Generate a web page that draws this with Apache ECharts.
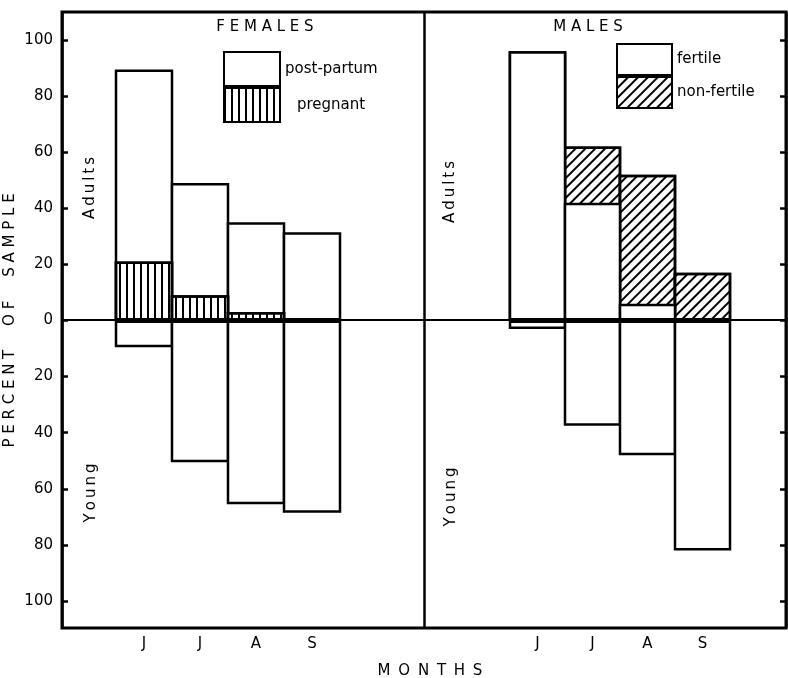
<!DOCTYPE html>
<html>
<head>
<meta charset="utf-8">
<script src="https://cdn.jsdelivr.net/npm/echarts@6/dist/echarts.min.js"></script>
<style>html,body{margin:0;padding:0;background:#fff}#c{width:788px;height:678px}</style>
</head>
<body>
<div id="c"></div>
<script>
// ---- data (percent of sample) ----
const categories = ['J', 'J', 'A', 'S'];
// females, adults: top of the whole bar (post-partum + pregnant) and the pregnant part
const femaleAdultTotal = [89.5, 49, 35, 31.5];
const femalePregnant = [21, 9, 3, 0];
const femaleYoung = [9.5, 50.5, 65.5, 68.5];
// males, adults: top of the whole bar (fertile + non-fertile) and the fertile part
const maleAdultTotal = [96, 62, 52, 17];
const maleFertile = [96, 42, 6, 0];
const maleYoung = [3, 37.5, 48, 82];
const yMin = -100, yMax = 100, yStep = 20;

const FONT = 'DejaVu Sans';
const black = '#000';
const BW = 2.5;
const gridW = [0, 224, 220];
const plainStyle = { color: '#fff', borderColor: black, borderWidth: BW };
const vertHatch = {
  color: '#fff', borderColor: black, borderWidth: BW,
  decal: { symbol: 'rect', symbolSize: 1, color: black, dashArrayX: [2, 5], dashArrayY: [1, 0], rotation: 0 }
};
const diagHatch = {
  color: '#fff', borderColor: black, borderWidth: BW,
  decal: { symbol: 'rect', symbolSize: 1, color: black, dashArrayX: [1.3, 5], dashArrayY: [1, 0], rotation: Math.PI / 4 }
};
const neg = a => a.map(v => -v);
const dropZero = a => a.map(v => (v === 0 ? '-' : v));

function barSeries(name, data, gi, style) {
  return {
    name, type: 'bar', data: dropZero(data), xAxisIndex: gi, yAxisIndex: gi,
    // ECharts draws the border inside the bar; widen by the border so neighbours share one edge
    barWidth: gridW[gi] / categories.length + BW, barGap: '-100%',
    itemStyle: style, silent: true, animation: false
  };
}

function catAxis(gi) {
  return {
    gridIndex: gi, type: 'category', data: categories, position: 'bottom', offset: 27,
    axisLine: { show: false },
    axisTick: { show: true, inside: true, length: 5, alignWithLabel: false, lineStyle: { color: black, width: 2 } },
    axisLabel: { color: black, fontSize: 15, fontFamily: FONT, margin: 9 },
    splitLine: { show: false }
  };
}

const txt = (text, x, y, rot) => ({
  type: 'text', x, y, rotation: rot || 0,
  style: { text, fill: black, font: '15px "' + FONT + '"', align: 'center', verticalAlign: 'middle' }
});

const chart = echarts.init(document.getElementById('c'), null, { renderer: 'canvas' });
chart.setOption({
  animation: false,
  backgroundColor: '#fff',
  grid: [
    { left: 62, top: 12, width: 724, height: 616, show: true, borderColor: black, borderWidth: 3, backgroundColor: 'transparent' },
    { left: 116, top: 40, width: gridW[1], height: 561 },
    { left: 510, top: 40, width: gridW[2], height: 561 }
  ],
  xAxis: [
    {
      gridIndex: 0, type: 'value', min: 0, max: 2, interval: 1,
      axisLine: { show: true, onZero: true, lineStyle: { color: black, width: 2 } },
      axisTick: { show: false }, axisLabel: { show: false },
      splitLine: { show: true, lineStyle: { color: black, width: 2.5 } }
    },
    catAxis(1),
    catAxis(2)
  ],
  yAxis: [
    {
      gridIndex: 0, type: 'value', min: -110, max: 110,
      axisLine: { show: false }, axisTick: { show: false }, axisLabel: { show: false }, splitLine: { show: false }
    },
    {
      gridIndex: 1, type: 'value', min: yMin, max: yMax, interval: yStep, position: 'left', offset: 54,
      axisLine: { show: false },
      axisTick: { show: true, inside: true, length: 6, lineStyle: { color: black, width: 2.5 } },
      axisLabel: { color: black, fontSize: 15, fontFamily: FONT, margin: 9, formatter: v => String(Math.abs(v)) },
      splitLine: { show: false },
      name: 'P E R C E N T     O F     S A M P L E', nameLocation: 'middle', nameGap: 44, nameRotate: 90,
      nameTextStyle: { color: black, fontSize: 15, fontFamily: FONT }
    },
    {
      gridIndex: 2, type: 'value', min: yMin, max: yMax, interval: yStep, position: 'right', offset: 56,
      axisLine: { show: false },
      axisTick: { show: true, inside: true, length: 6, lineStyle: { color: black, width: 2.5 } },
      axisLabel: { show: false }, splitLine: { show: false }
    }
  ],
  legend: [
    {
      data: ['post-partum', { name: 'pregnant', textStyle: { padding: [0, 0, 0, 12] } }],
      orient: 'vertical', left: 223, top: 51, padding: 0, itemGap: 0, itemWidth: 56, itemHeight: 34,
      icon: 'rect', selectedMode: false,
      textStyle: { color: black, fontSize: 15, fontFamily: FONT }
    },
    {
      data: ['fertile', 'non-fertile'],
      orient: 'vertical', left: 616, top: 43, padding: 0, itemGap: 0, itemWidth: 55, itemHeight: 31,
      icon: 'rect', selectedMode: false,
      textStyle: { color: black, fontSize: 15, fontFamily: FONT }
    }
  ],
  graphic: [
    txt('F E M A L E S', 265, 27),
    txt('M A L E S', 588, 27),
    txt('A\u2009d\u2009u\u2009l\u2009t\u2009s', 90, 188, Math.PI / 2),
    txt('Y\u2009o\u2009u\u2009n\u2009g', 91, 493, Math.PI / 2),
    txt('A\u2009d\u2009u\u2009l\u2009t\u2009s', 450, 192, Math.PI / 2),
    txt('Y\u2009o\u2009u\u2009n\u2009g', 451, 497, Math.PI / 2),
    txt('M \u2009O \u2009N \u2009T \u2009H \u2009S', 430, 671)
  ],
  series: [
    barSeries('post-partum', femaleAdultTotal, 1, plainStyle),
    barSeries('pregnant', femalePregnant, 1, vertHatch),
    barSeries('female young', neg(femaleYoung), 1, plainStyle),
    barSeries('non-fertile', maleAdultTotal, 2, diagHatch),
    barSeries('fertile', maleFertile, 2, plainStyle),
    barSeries('male young', neg(maleYoung), 2, plainStyle)
  ]
});
</script>
</body>
</html>
